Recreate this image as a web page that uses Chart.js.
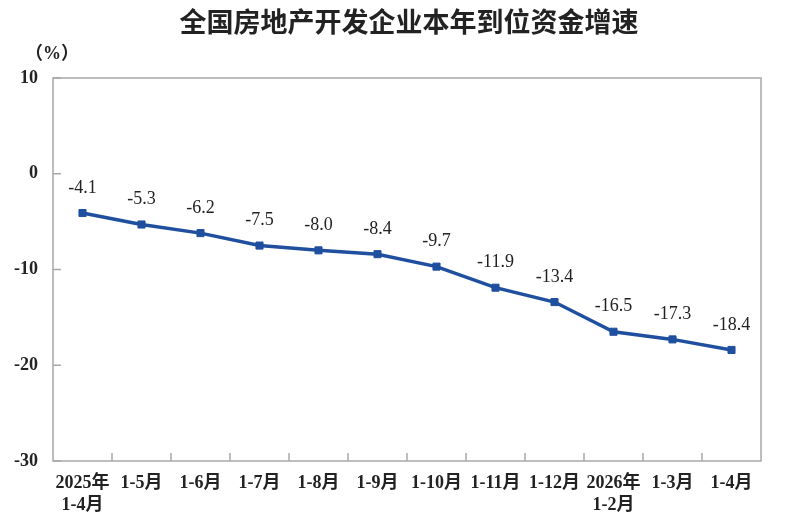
<!DOCTYPE html>
<html>
<head>
<meta charset="utf-8">
<script src="https://cdn.jsdelivr.net/npm/chart.js@4.4.0/dist/chart.umd.min.js"></script>
<style>
  html, body { margin: 0; padding: 0; background: #fff; }
  #wrap { width: 793px; height: 521px; }
</style>
</head>
<body>
<div id="wrap"><canvas id="chart" width="793" height="521"></canvas></div>
<script>
// Chart data
var titleText = '全国房地产开发企业本年到位资金增速';
var unitText = '（%）';
var categories = [
  ['2025年', '1-4月'], '1-5月', '1-6月', '1-7月', '1-8月', '1-9月',
  '1-10月', '1-11月', '1-12月', ['2026年', '1-2月'], '1-3月', '1-4月'
];
var growth = [-4.1, -5.3, -6.2, -7.5, -8.0, -8.4, -9.7, -11.9, -13.4, -16.5, -17.3, -18.4];
var yTicks = [10, 0, -10, -20, -30];

var serif = "'Liberation Serif', 'Noto Sans CJK SC', serif";
var lineColor = '#1f4f9e';

// Frame, inner ticks, title, unit label and value labels
var decorations = {
  id: 'decorations',
  afterDatasetsDraw: function (chart) {
    var ctx = chart.ctx;
    var area = chart.chartArea;
    var x = chart.scales.x;
    var y = chart.scales.y;

    ctx.save();
    ctx.strokeStyle = '#a8a8a8';
    ctx.lineWidth = 1.5;
    ctx.strokeRect(area.left, area.top, area.right - area.left, area.bottom - area.top);

    // y ticks pointing inside
    yTicks.forEach(function (v) {
      var py = y.getPixelForValue(v);
      ctx.beginPath();
      ctx.moveTo(area.left, py);
      ctx.lineTo(area.left + 8, py);
      ctx.stroke();
    });

    // x ticks between categories, pointing up
    for (var i = 1; i < categories.length; i++) {
      var px = (x.getPixelForValue(i - 1) + x.getPixelForValue(i)) / 2;
      ctx.beginPath();
      ctx.moveTo(px, area.bottom);
      ctx.lineTo(px, area.bottom - 8);
      ctx.stroke();
    }

    // value labels
    var meta = chart.getDatasetMeta(0);
    ctx.fillStyle = '#222';
    ctx.font = '18px ' + serif;
    ctx.textAlign = 'center';
    ctx.textBaseline = 'middle';
    meta.data.forEach(function (pt, idx) {
      ctx.fillText(growth[idx].toFixed(1), pt.x, pt.y - 25);
    });

    // title
    ctx.fillStyle = '#222';
    ctx.font = "bold 27px 'Noto Sans CJK SC', sans-serif";
    ctx.fillText(titleText, 409, 22);

    // unit
    ctx.font = 'bold 18px ' + serif;
    ctx.fillText(unitText, 52, 54);
    ctx.restore();
  }
};

var ctx = document.getElementById('chart').getContext('2d');
var chart = new Chart(ctx, {
  type: 'line',
  data: {
    labels: categories,
    datasets: [
      {
        data: growth,
        borderColor: lineColor,
        backgroundColor: lineColor,
        borderWidth: 3.5,
        pointStyle: 'rect',
        pointRadius: 5,
        pointBorderWidth: 1,
        tension: 0
      }
    ]
  },
  options: {
    responsive: false,
    animation: false,
    devicePixelRatio: 1,
    layout: {
      padding: { top: 78, right: 32, left: 0, bottom: 0 }
    },
    plugins: {
      legend: { display: false },
      tooltip: { enabled: false }
    },
    scales: {
      x: {
        offset: true,
        grid: { display: false, drawTicks: false },
        border: { display: false },
        ticks: {
          padding: 11,
          color: '#222',
          maxRotation: 0,
          autoSkip: false,
          font: { family: serif, size: 18, weight: 'bold', lineHeight: 1.22 }
        },
        afterFit: function (scale) { scale.height = 60; }
      },
      y: {
        min: -30,
        max: 10,
        grid: { display: false, drawTicks: false },
        border: { display: false },
        afterBuildTicks: function (scale) {
          scale.ticks = yTicks.map(function (v) { return { value: v }; });
        },
        ticks: {
          padding: 15,
          color: '#222',
          font: { family: serif, size: 18, weight: 'bold' }
        },
        afterFit: function (scale) { scale.width = 53; }
      }
    }
  },
  plugins: [decorations]
});
</script>
</body>
</html>
